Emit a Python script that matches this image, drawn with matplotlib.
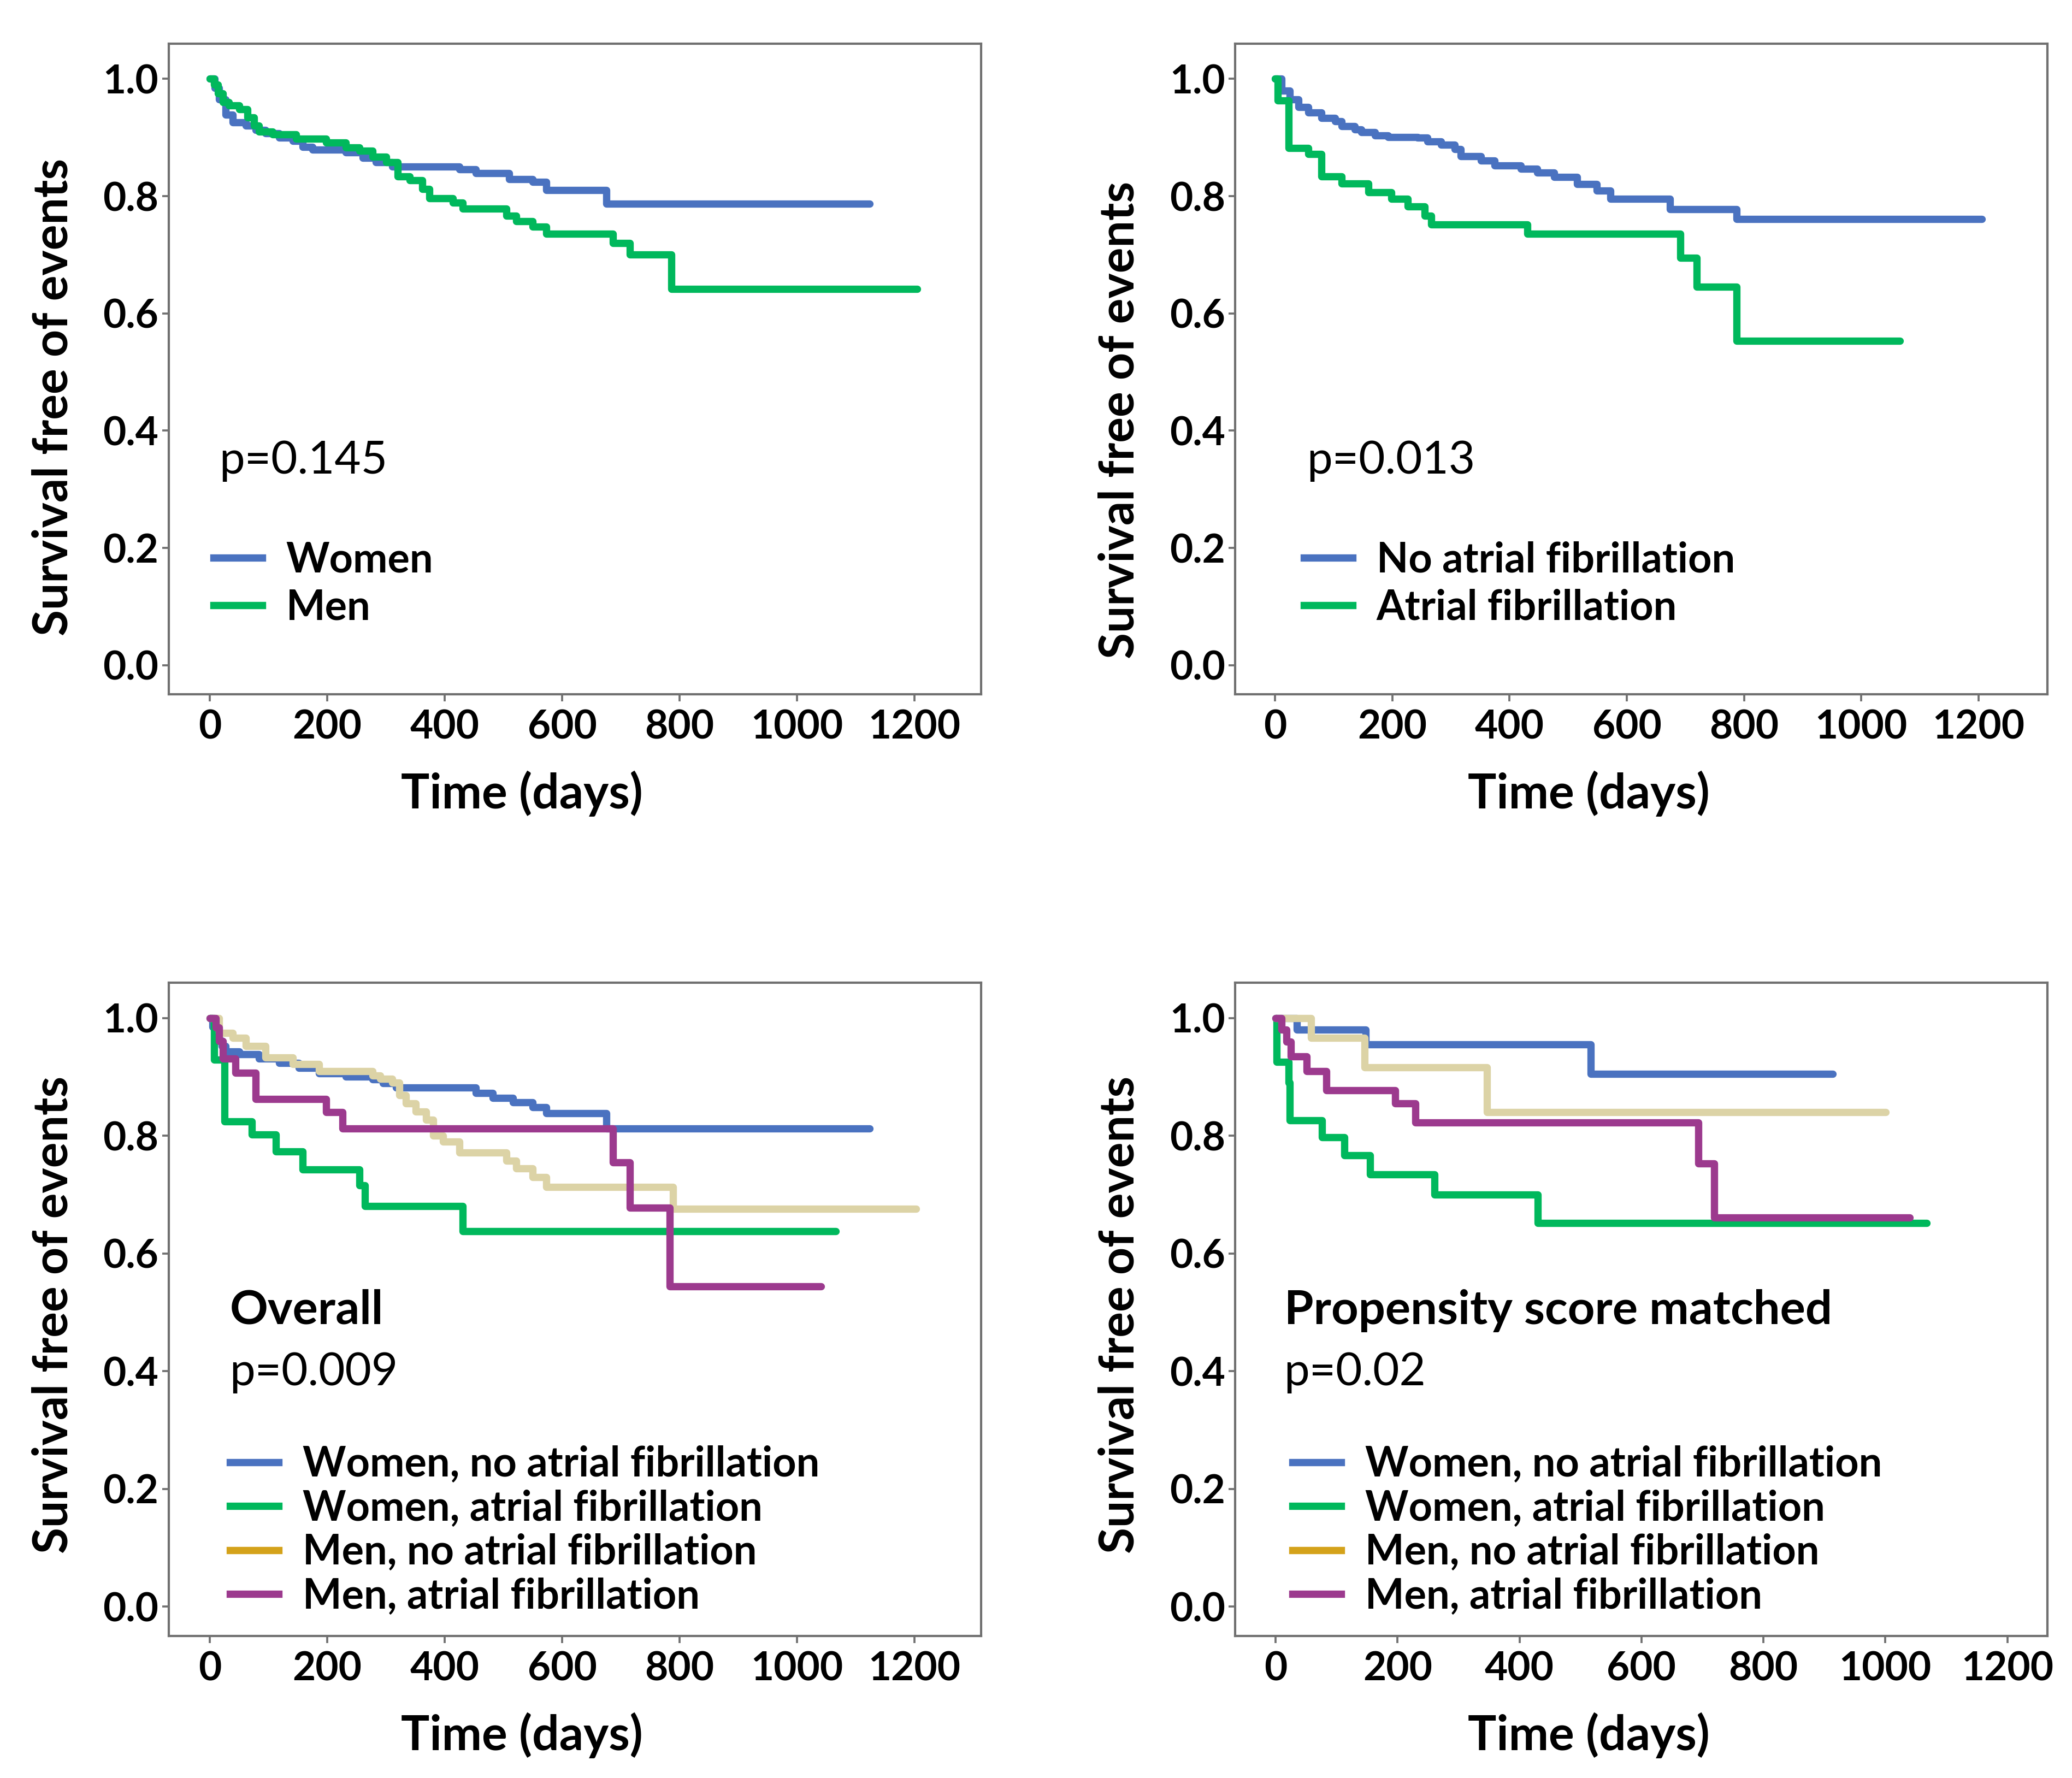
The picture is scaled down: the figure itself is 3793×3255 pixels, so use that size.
import matplotlib
matplotlib.use("Agg")
import matplotlib.pyplot as plt
from matplotlib.lines import Line2D

plt.rcParams['font.family'] = ['Lato', 'DejaVu Sans']

BLUE = '#4a72c0'
GREEN = '#00b85c'
TAN = '#dcd3a6'
GOLD = '#d4a21a'
PURPLE = '#9c3a8e'

# panel A: sex
women_t = [0, 8, 16, 27, 39, 61, 78, 95, 118, 141, 158, 175, 232, 260, 283, 311, 425, 453, 510, 550, 573, 675, 1124]
women_s = [1.0, 0.985, 0.965, 0.939, 0.926, 0.92, 0.913, 0.907, 0.90, 0.894, 0.884, 0.879, 0.875, 0.865, 0.858, 0.850, 0.846, 0.839, 0.829, 0.824, 0.810, 0.787, 0.787]
men_t = [0, 7, 14, 22, 33, 50, 64, 75, 84, 107, 147, 198, 232, 255, 277, 300, 320, 340, 362, 374, 414, 431, 505, 522, 550, 573, 686, 715, 786, 1205]
men_s = [1.0, 0.99, 0.975, 0.96, 0.955, 0.948, 0.934, 0.92, 0.91, 0.905, 0.898, 0.891, 0.883, 0.877, 0.867, 0.858, 0.834, 0.827, 0.812, 0.796, 0.789, 0.779, 0.767, 0.757, 0.748, 0.736, 0.720, 0.700, 0.642, 0.642]

# panel B: atrial fibrillation
noaf_t = [0, 11, 25, 40, 57, 79, 102, 113, 136, 147, 170, 193, 243, 260, 283, 306, 317, 351, 374, 419, 447, 476, 515, 549, 572, 674, 787, 1206]
noaf_s = [1.0, 0.98, 0.965, 0.952, 0.943, 0.933, 0.928, 0.919, 0.914, 0.909, 0.904, 0.901, 0.90, 0.893, 0.888, 0.88, 0.868, 0.861, 0.852, 0.847, 0.84, 0.833, 0.821, 0.809, 0.795, 0.778, 0.761, 0.761]
af_t = [0, 4, 23, 57, 79, 113, 159, 198, 226, 255, 266, 430, 691, 719, 787, 1066]
af_s = [1.0, 0.963, 0.882, 0.872, 0.834, 0.822, 0.807, 0.795, 0.782, 0.767, 0.752, 0.736, 0.695, 0.645, 0.553, 0.553]

# panel C: overall, four groups
w_noaf_t = [0, 5, 10, 15, 20, 27, 50, 84, 118, 152, 186, 232, 277, 295, 317, 453, 482, 516, 550, 573, 675, 1124]
w_noaf_s = [1.0, 0.985, 0.972, 0.962, 0.952, 0.943, 0.938, 0.931, 0.924, 0.915, 0.906, 0.90, 0.896, 0.889, 0.882, 0.873, 0.864, 0.857, 0.848, 0.838, 0.812, 0.812]
w_af_t = [0, 7, 25, 72, 113, 158, 255, 264, 431, 1066]
w_af_s = [1.0, 0.929, 0.824, 0.802, 0.773, 0.743, 0.716, 0.680, 0.638, 0.638]
m_noaf_t = [0, 16, 39, 61, 95, 141, 186, 277, 290, 311, 323, 334, 351, 368, 380, 397, 425, 505, 522, 550, 573, 789, 1203]
m_noaf_s = [1.0, 0.975, 0.966, 0.952, 0.933, 0.922, 0.91, 0.902, 0.897, 0.89, 0.869, 0.855, 0.841, 0.827, 0.80, 0.79, 0.771, 0.757, 0.744, 0.73, 0.713, 0.676, 0.676]
m_af_t = [0, 10, 16, 22, 44, 78, 198, 226, 686, 715, 783, 1041]
m_af_s = [1.0, 0.984, 0.961, 0.931, 0.907, 0.862, 0.840, 0.812, 0.755, 0.678, 0.544, 0.544]

# panel D: propensity score matched
pw_noaf_t = [0, 35, 148, 517, 914]
pw_noaf_s = [1.0, 0.98, 0.955, 0.905, 0.905]
pw_af_t = [0, 2, 21, 23, 76, 113, 155, 261, 430, 1068]
pw_af_s = [1.0, 0.925, 0.89, 0.826, 0.797, 0.767, 0.734, 0.70, 0.652, 0.652]
pm_noaf_t = [0, 58, 146, 347, 1001]
pm_noaf_s = [1.0, 0.966, 0.916, 0.840, 0.840]
pm_af_t = [0, 10, 18, 25, 51, 83, 196, 229, 693, 719, 1040]
pm_af_s = [1.0, 0.98, 0.96, 0.935, 0.91, 0.877, 0.855, 0.822, 0.753, 0.661, 0.661]

xticks = [0, 200, 400, 600, 800, 1000, 1200]
yticks = [0.0, 0.2, 0.4, 0.6, 0.8, 1.0]

W, H = 3793, 3255
fig = plt.figure(figsize=(W / 300, H / 300), dpi=300)

boxes = [
    (0.0814, 0.6094, 0.392, 0.366),
    (0.5962, 0.6094, 0.392, 0.366),
    (0.0814, 0.0799, 0.392, 0.3674),
    (0.5962, 0.0799, 0.392, 0.3674),
]
xlims = [(-70, 1313), (-68, 1318), (-70, 1313), (-66, 1266)]
ylab_pos = [0.457, 0.422, 0.492, 0.492]

panels = [
    dict(curves=[(women_t, women_s, BLUE), (men_t, men_s, GREEN)],
         labels=['Women', 'Men'], handle_colors=[BLUE, GREEN],
         title=None, p='p=0.145', px=0.062, leg_x=0.035),
    dict(curves=[(noaf_t, noaf_s, BLUE), (af_t, af_s, GREEN)],
         labels=['No atrial fibrillation', 'Atrial fibrillation'], handle_colors=[BLUE, GREEN],
         title=None, p='p=0.013', px=0.088, leg_x=0.064),
    dict(curves=[(w_noaf_t, w_noaf_s, BLUE), (w_af_t, w_af_s, GREEN),
                 (m_noaf_t, m_noaf_s, TAN), (m_af_t, m_af_s, PURPLE)],
         labels=['Women, no atrial fibrillation', 'Women, atrial fibrillation',
                 'Men, no atrial fibrillation', 'Men, atrial fibrillation'],
         handle_colors=[BLUE, GREEN, GOLD, PURPLE],
         title='Overall', p='p=0.009', px=0.075, leg_x=0.055),
    dict(curves=[(pw_noaf_t, pw_noaf_s, BLUE), (pw_af_t, pw_af_s, GREEN),
                 (pm_noaf_t, pm_noaf_s, TAN), (pm_af_t, pm_af_s, PURPLE)],
         labels=['Women, no atrial fibrillation', 'Women, atrial fibrillation',
                 'Men, no atrial fibrillation', 'Men, atrial fibrillation'],
         handle_colors=[BLUE, GREEN, GOLD, PURPLE],
         title='Propensity score matched', p='p=0.02', px=0.060, leg_x=0.050),
]

for box, xl, yp, pan in zip(boxes, xlims, ylab_pos, panels):
    ax = fig.add_axes(box)
    for t, s, c in pan['curves']:
        ax.step(t, s, where='post', color=c, lw=3.2, solid_capstyle='round')
    ax.set_xlim(*xl)
    ax.set_ylim(-0.05, 1.06)
    ax.set_xticks(xticks)
    ax.set_yticks(yticks)
    ax.set_yticklabels(['%.1f' % v for v in yticks])
    for sp in ax.spines.values():
        sp.set_color('#707070')
        sp.set_linewidth(1.0)
    ax.tick_params(direction='out', length=3, width=0.9, color='#707070',
                   labelsize=17.5, pad=1.5)
    ax.tick_params(axis='x', pad=3.5)
    for lab in ax.get_xticklabels() + ax.get_yticklabels():
        lab.set_fontweight('bold')
    ax.set_xlabel('Time (days)', fontsize=21, fontweight='bold')
    ax.xaxis.set_label_coords(0.435, -0.117)
    ax.set_ylabel('Survival free of events', fontsize=21, fontweight='bold', labelpad=12)
    ax.yaxis.label.set_y(yp)

    if pan['title']:
        ax.text(pan['px'], 0.498, pan['title'], transform=ax.transAxes,
                fontsize=20.8, fontweight='bold', va='center')
        ax.text(pan['px'], 0.403, pan['p'], transform=ax.transAxes,
                fontsize=20, va='center')
        top = 0.317
        spacing = 0.14
    else:
        ax.text(pan['px'], 0.359, pan['p'], transform=ax.transAxes,
                fontsize=20, va='center')
        top = 0.261
        spacing = 0.22
    handles = [Line2D([], [], color=c, lw=3.2) for c in pan['handle_colors']]
    ax.legend(handles, pan['labels'], loc='upper left', bbox_to_anchor=(pan['leg_x'], top),
              frameon=False, handlelength=1.17, handletextpad=0.58, labelspacing=spacing,
              prop={'size': 18.2, 'weight': 'bold'}, borderaxespad=0)

fig.savefig('out.png', dpi=300)
